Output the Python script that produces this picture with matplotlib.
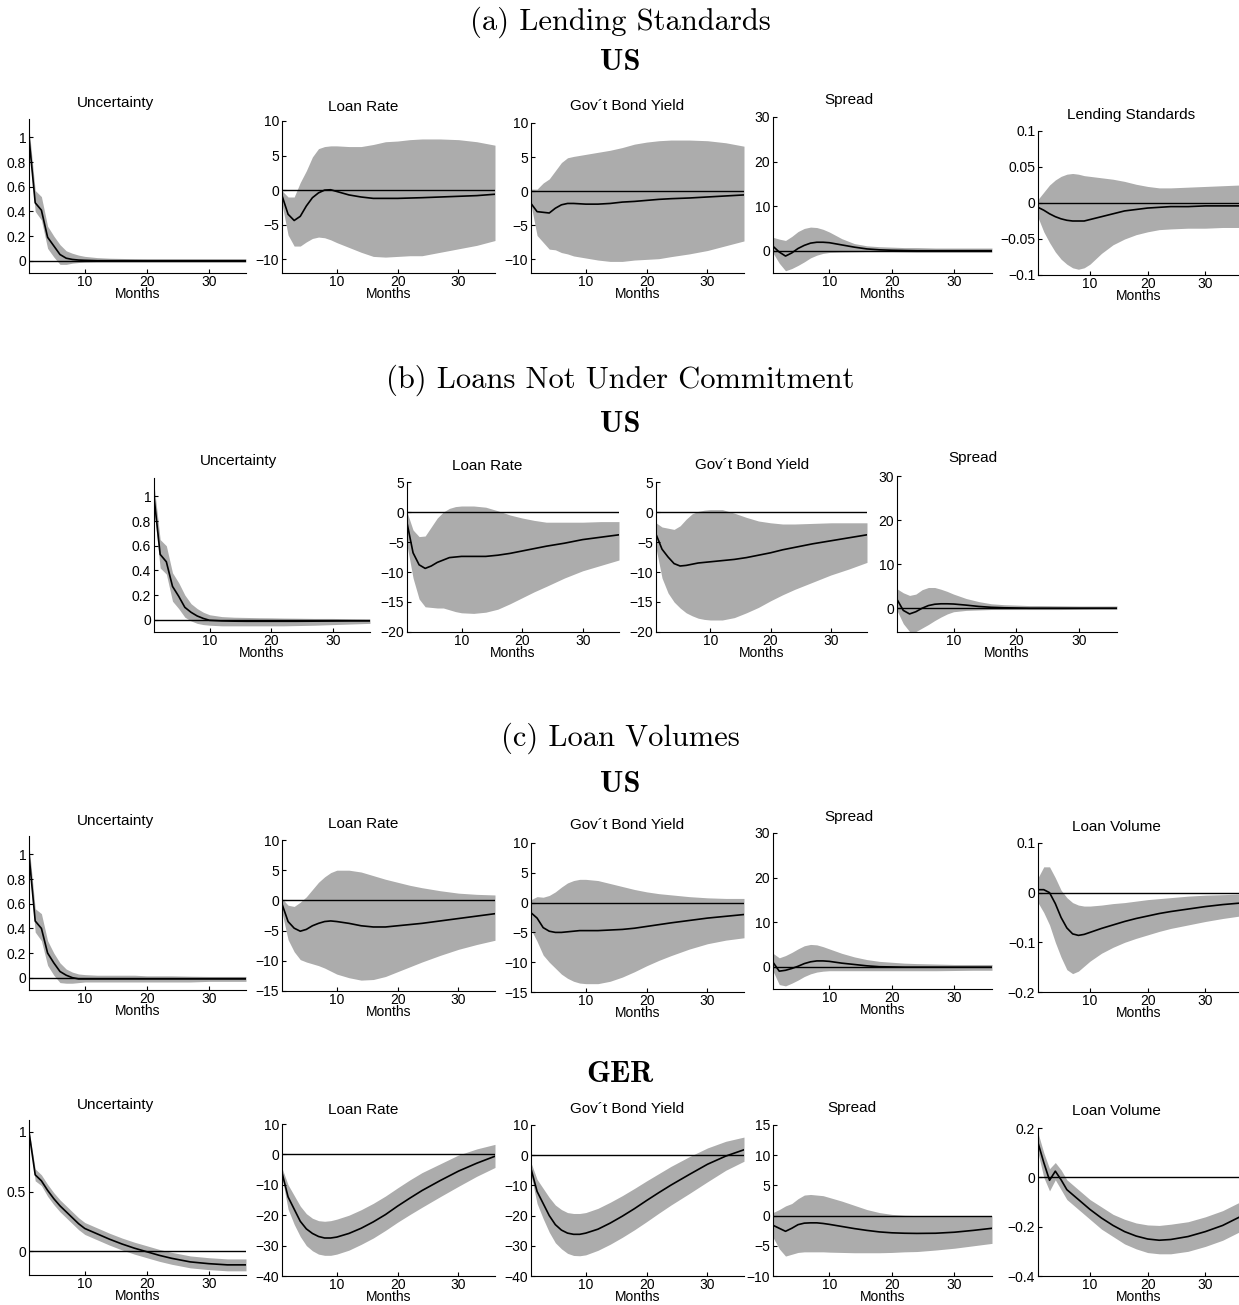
import matplotlib
matplotlib.use('Agg')
import matplotlib.pyplot as plt
from matplotlib.ticker import FuncFormatter

W, H = 1239, 1305

# ---------------- data ----------------
months = [1, 2, 3, 4, 5, 6, 7, 8, 9, 10, 12, 14, 16, 18, 20, 22, 24, 27, 30, 33, 36]

# (a) Lending Standards, US
a_unc_mid = [1.0, 0.47, 0.41, 0.19, 0.12, 0.05, 0.02, 0.01, 0.005, 0.003, 0.0, 0.0, 0.0, 0.0, 0.0, 0.0, 0.0, 0.0, 0.0, 0.0, 0.0]
a_unc_hi = [1.08, 0.57, 0.52, 0.28, 0.2, 0.13, 0.08, 0.06, 0.045, 0.035, 0.025, 0.02, 0.018, 0.016, 0.015, 0.015, 0.015, 0.015, 0.015, 0.015, 0.015]
a_unc_lo = [0.93, 0.40, 0.33, 0.10, 0.03, -0.03, -0.03, -0.02, -0.015, -0.012, -0.01, -0.01, -0.01, -0.01, -0.01, -0.01, -0.01, -0.01, -0.01, -0.01, -0.01]

a_lr_mid = [-0.8, -3.5, -4.4, -3.8, -2.3, -1.1, -0.4, 0.0, 0.05, -0.2, -0.7, -1.0, -1.2, -1.2, -1.2, -1.15, -1.1, -1.0, -0.9, -0.8, -0.6]
a_lr_hi = [-0.1, -1.0, -1.0, 1.1, 2.8, 4.8, 6.0, 6.3, 6.4, 6.4, 6.3, 6.3, 6.6, 7.0, 7.1, 7.3, 7.4, 7.4, 7.3, 7.0, 6.5]
a_lr_lo = [-2.0, -6.5, -8.1, -8.1, -7.5, -7.0, -6.8, -6.9, -7.2, -7.6, -8.3, -9.0, -9.6, -9.7, -9.6, -9.5, -9.5, -9.0, -8.5, -8.0, -7.3]

a_gb_mid = [-1.8, -3.0, -3.1, -3.2, -2.5, -2.0, -1.8, -1.8, -1.85, -1.9, -1.9, -1.8, -1.6, -1.5, -1.35, -1.2, -1.1, -1.0, -0.85, -0.7, -0.55]
a_gb_hi = [0.3, 0.3, 1.2, 1.8, 3.0, 4.2, 4.9, 5.1, 5.25, 5.4, 5.7, 6.0, 6.4, 6.9, 7.2, 7.4, 7.5, 7.5, 7.4, 7.1, 6.6]
a_gb_lo = [-2.0, -6.5, -7.5, -8.5, -8.6, -9.0, -9.2, -9.5, -9.65, -9.8, -10.1, -10.3, -10.3, -10.1, -10.0, -9.9, -9.6, -9.2, -8.7, -8.0, -7.3]

a_sp_mid = [1.0, -0.3, -1.2, -0.5, 0.5, 1.2, 1.7, 1.9, 1.9, 1.8, 1.3, 0.8, 0.4, 0.2, 0.1, 0.05, 0.0, 0.0, 0.0, 0.0, 0.0]
a_sp_hi = [3.0, 2.6, 2.3, 3.2, 4.3, 5.0, 5.3, 5.2, 4.8, 4.2, 2.7, 1.6, 1.1, 0.9, 0.8, 0.7, 0.7, 0.6, 0.6, 0.6, 0.6]
a_sp_lo = [-0.5, -2.8, -4.5, -4.0, -3.3, -2.5, -1.6, -1.0, -0.6, -0.4, -0.3, -0.25, -0.2, -0.2, -0.2, -0.25, -0.3, -0.3, -0.3, -0.3, -0.3]

a_ls_mid = [-0.006, -0.010, -0.015, -0.019, -0.022, -0.024, -0.025, -0.025, -0.025, -0.023, -0.019, -0.015, -0.011, -0.009, -0.007, -0.006, -0.005, -0.005, -0.004, -0.004, -0.004]
a_ls_hi = [0.005, 0.015, 0.025, 0.032, 0.037, 0.040, 0.041, 0.040, 0.038, 0.037, 0.035, 0.033, 0.030, 0.026, 0.023, 0.021, 0.021, 0.022, 0.023, 0.024, 0.025]
a_ls_lo = [-0.020, -0.040, -0.055, -0.068, -0.078, -0.085, -0.090, -0.092, -0.090, -0.085, -0.070, -0.058, -0.050, -0.044, -0.040, -0.037, -0.036, -0.035, -0.035, -0.034, -0.034]

# (b) Loans Not Under Commitment, US
b_unc_mid = [1.0, 0.53, 0.47, 0.27, 0.19, 0.10, 0.06, 0.03, 0.01, -0.005, -0.01, -0.012, -0.013, -0.013, -0.013, -0.013, -0.013, -0.012, -0.011, -0.01, -0.01]
b_unc_hi = [1.10, 0.65, 0.60, 0.38, 0.30, 0.20, 0.13, 0.09, 0.06, 0.04, 0.025, 0.02, 0.018, 0.016, 0.015, 0.013, 0.012, 0.01, 0.01, 0.007, 0.005]
b_unc_lo = [0.90, 0.42, 0.37, 0.15, 0.09, 0.02, -0.01, -0.03, -0.04, -0.045, -0.05, -0.05, -0.05, -0.05, -0.05, -0.05, -0.048, -0.045, -0.04, -0.035, -0.03]

b_lr_mid = [-1.8, -6.8, -8.8, -9.4, -9.0, -8.4, -8.0, -7.6, -7.5, -7.4, -7.4, -7.4, -7.2, -6.9, -6.5, -6.1, -5.7, -5.2, -4.6, -4.2, -3.8]
b_lr_hi = [0.0, -3.0, -4.1, -4.0, -2.5, -1.0, 0.0, 0.6, 0.9, 1.0, 1.0, 0.8, 0.2, -0.5, -1.0, -1.4, -1.7, -1.7, -1.7, -1.6, -1.6]
b_lr_lo = [-5.5, -11.0, -14.5, -15.8, -15.9, -16.0, -16.0, -16.3, -16.6, -16.8, -16.9, -16.7, -16.2, -15.3, -14.3, -13.3, -12.4, -11.0, -9.8, -8.9, -8.0]

b_gb_mid = [-3.7, -6.2, -7.5, -8.6, -9.0, -8.9, -8.7, -8.5, -8.4, -8.3, -8.1, -7.9, -7.6, -7.2, -6.8, -6.3, -5.9, -5.3, -4.8, -4.3, -3.8]
b_gb_hi = [-1.8, -2.5, -2.7, -2.9, -2.3, -1.2, -0.3, 0.1, 0.3, 0.4, 0.4, -0.2, -0.9, -1.5, -1.8, -2.0, -2.0, -1.9, -1.8, -1.8, -1.8]
b_gb_lo = [-6.0, -11.0, -13.5, -15.0, -16.0, -16.8, -17.3, -17.7, -17.9, -18.0, -18.0, -17.6, -16.8, -15.9, -14.8, -13.8, -12.9, -11.7, -10.5, -9.5, -8.4]

b_sp_mid = [2.0, -0.5, -1.3, -0.8, 0.0, 0.6, 0.9, 1.0, 1.0, 0.95, 0.7, 0.4, 0.2, 0.1, 0.05, 0.0, 0.0, 0.0, 0.0, 0.0, 0.0]
b_sp_hi = [4.4, 3.5, 2.9, 3.2, 4.2, 4.7, 4.7, 4.3, 3.8, 3.2, 2.2, 1.5, 1.0, 0.8, 0.7, 0.6, 0.6, 0.55, 0.5, 0.5, 0.5]
b_sp_lo = [-0.5, -3.5, -5.3, -5.3, -4.5, -3.7, -2.8, -2.0, -1.3, -0.8, -0.5, -0.4, -0.3, -0.3, -0.3, -0.3, -0.3, -0.3, -0.25, -0.2, -0.2]

# (c) Loan Volumes, US
c_unc_mid = [1.0, 0.46, 0.40, 0.20, 0.12, 0.05, 0.02, 0.0, -0.01, -0.01, -0.01, -0.01, -0.01, -0.01, -0.01, -0.01, -0.01, -0.01, -0.01, -0.01, -0.01]
c_unc_hi = [1.08, 0.56, 0.52, 0.30, 0.20, 0.12, 0.07, 0.045, 0.03, 0.025, 0.02, 0.02, 0.02, 0.02, 0.015, 0.015, 0.015, 0.012, 0.01, 0.01, 0.01]
c_unc_lo = [0.93, 0.37, 0.30, 0.10, 0.02, -0.04, -0.045, -0.045, -0.04, -0.035, -0.035, -0.035, -0.035, -0.035, -0.035, -0.035, -0.035, -0.035, -0.03, -0.03, -0.03]

c_lr_mid = [-0.6, -3.5, -4.6, -5.1, -4.8, -4.2, -3.8, -3.5, -3.4, -3.5, -3.8, -4.2, -4.4, -4.4, -4.2, -4.0, -3.8, -3.4, -3.0, -2.6, -2.2]
c_lr_hi = [0.3, -0.8, -1.0, -0.3, 0.6, 1.8, 3.0, 3.9, 4.6, 5.0, 5.0, 4.7, 4.1, 3.5, 3.0, 2.5, 2.1, 1.6, 1.2, 1.0, 0.9]
c_lr_lo = [-2.0, -6.5, -8.5, -9.8, -10.2, -10.5, -10.8, -11.2, -11.7, -12.2, -12.8, -13.2, -13.1, -12.6, -11.8, -11.0, -10.2, -9.1, -8.1, -7.3, -6.6]

c_gb_mid = [-1.7, -2.6, -4.2, -4.8, -5.0, -5.0, -4.9, -4.8, -4.7, -4.7, -4.7, -4.6, -4.5, -4.3, -4.0, -3.7, -3.4, -3.0, -2.6, -2.3, -2.0]
c_gb_hi = [0.5, 1.0, 0.9, 1.2, 1.8, 2.6, 3.3, 3.7, 3.9, 3.9, 3.7, 3.2, 2.7, 2.2, 1.8, 1.5, 1.3, 1.0, 0.8, 0.7, 0.7]
c_gb_lo = [-4.5, -6.5, -8.8, -10.0, -11.0, -12.0, -12.7, -13.2, -13.5, -13.6, -13.6, -13.2, -12.5, -11.6, -10.6, -9.7, -8.9, -7.8, -6.9, -6.3, -5.9]

c_sp_mid = [1.0, -1.0, -0.8, -0.4, 0.1, 0.7, 1.1, 1.3, 1.3, 1.2, 0.8, 0.5, 0.2, 0.0, -0.05, -0.1, -0.1, -0.1, -0.1, -0.1, -0.1]
c_sp_hi = [3.0, 2.0, 2.5, 3.2, 4.0, 4.7, 5.0, 4.9, 4.5, 4.0, 3.0, 2.2, 1.6, 1.2, 1.0, 0.8, 0.7, 0.6, 0.5, 0.5, 0.5]
c_sp_lo = [-1.0, -4.0, -4.3, -3.7, -3.0, -2.2, -1.6, -1.2, -1.0, -0.9, -0.9, -0.9, -0.9, -0.9, -0.9, -0.9, -0.9, -0.9, -0.85, -0.8, -0.8]

c_lv_mid = [0.006, 0.006, 0.0, -0.022, -0.05, -0.071, -0.083, -0.086, -0.084, -0.080, -0.072, -0.065, -0.058, -0.052, -0.047, -0.042, -0.038, -0.033, -0.028, -0.024, -0.021]
c_lv_hi = [0.03, 0.052, 0.052, 0.03, 0.005, -0.01, -0.02, -0.025, -0.027, -0.027, -0.025, -0.022, -0.02, -0.017, -0.014, -0.012, -0.010, -0.007, -0.005, -0.004, -0.003]
c_lv_lo = [-0.02, -0.04, -0.065, -0.10, -0.13, -0.155, -0.163, -0.158, -0.148, -0.138, -0.122, -0.110, -0.100, -0.092, -0.085, -0.078, -0.072, -0.065, -0.058, -0.052, -0.047]

# (c) Loan Volumes, GER
d_unc_mid = [1.0, 0.64, 0.59, 0.51, 0.44, 0.38, 0.33, 0.28, 0.23, 0.19, 0.145, 0.10, 0.06, 0.025, -0.005, -0.035, -0.06, -0.09, -0.105, -0.115, -0.115]
d_unc_hi = [1.02, 0.69, 0.64, 0.56, 0.49, 0.43, 0.38, 0.33, 0.28, 0.24, 0.195, 0.15, 0.11, 0.075, 0.045, 0.015, -0.01, -0.04, -0.055, -0.065, -0.065]
d_unc_lo = [0.98, 0.59, 0.55, 0.46, 0.39, 0.33, 0.28, 0.23, 0.18, 0.14, 0.095, 0.05, 0.01, -0.025, -0.055, -0.085, -0.11, -0.14, -0.155, -0.165, -0.165]

d_lr_mid = [-6.0, -14.0, -18.0, -22.0, -24.5, -26.0, -27.0, -27.5, -27.5, -27.2, -26.0, -24.3, -22.2, -19.8, -17.0, -14.4, -11.9, -8.6, -5.5, -2.9, -0.6]
d_lr_hi = [-4.5, -10.0, -13.5, -17.0, -19.5, -21.0, -21.8, -22.0, -21.8, -21.3, -20.0, -18.2, -16.1, -13.7, -11.0, -8.4, -6.0, -3.1, -0.2, 1.8, 3.3]
d_lr_lo = [-7.5, -18.0, -23.0, -27.0, -30.0, -31.7, -32.8, -33.2, -33.2, -32.8, -31.5, -29.6, -27.5, -25.0, -22.3, -19.8, -17.4, -13.9, -10.5, -7.2, -4.3]

d_gb_mid = [-4.5, -12.0, -16.0, -20.0, -23.0, -24.8, -25.8, -26.2, -26.2, -25.8, -24.5, -22.5, -20.2, -17.7, -15.0, -12.4, -9.9, -6.4, -3.0, -0.3, 1.8]
d_gb_hi = [-2.5, -8.0, -11.0, -14.0, -16.5, -18.0, -19.0, -19.3, -19.3, -19.0, -17.6, -15.6, -13.4, -11.0, -8.5, -6.1, -3.7, -0.5, 2.4, 4.6, 6.0]
d_gb_lo = [-6.5, -16.0, -21.0, -25.5, -29.0, -31.0, -32.5, -33.2, -33.3, -33.0, -31.5, -29.5, -27.2, -24.7, -22.0, -19.2, -16.5, -12.7, -8.8, -5.0, -2.0]

d_sp_mid = [-1.6, -2.1, -2.6, -2.1, -1.5, -1.25, -1.2, -1.2, -1.3, -1.45, -1.8, -2.15, -2.45, -2.7, -2.85, -2.92, -2.95, -2.92, -2.75, -2.45, -2.1]
d_sp_hi = [0.5, 1.0, 1.6, 2.0, 2.8, 3.4, 3.5, 3.4, 3.3, 3.0, 2.4, 1.7, 1.0, 0.5, 0.2, 0.05, 0.0, 0.0, 0.0, 0.0, 0.0]
d_sp_lo = [-3.6, -5.5, -6.7, -6.4, -6.1, -6.0, -6.0, -6.0, -6.0, -6.05, -6.1, -6.15, -6.15, -6.15, -6.1, -6.0, -5.95, -5.7, -5.4, -5.0, -4.6]

d_lv_mid = [0.14, 0.06, -0.012, 0.025, -0.01, -0.05, -0.07, -0.09, -0.11, -0.13, -0.165, -0.195, -0.22, -0.238, -0.25, -0.255, -0.252, -0.24, -0.22, -0.195, -0.16]
d_lv_hi = [0.18, 0.10, 0.035, 0.06, 0.03, -0.01, -0.03, -0.05, -0.07, -0.09, -0.12, -0.15, -0.17, -0.185, -0.193, -0.195, -0.19, -0.18, -0.16, -0.135, -0.10]
d_lv_lo = [0.10, 0.0, -0.055, -0.01, -0.05, -0.09, -0.11, -0.13, -0.15, -0.17, -0.21, -0.24, -0.27, -0.29, -0.305, -0.31, -0.31, -0.30, -0.28, -0.255, -0.22]

xticks = [10, 20, 30]
unc_ticks = [0, 0.2, 0.4, 0.6, 0.8, 1]

# ---------------- layout / style ----------------
BAND = '#acacac'
SANS = 'Liberation Sans'

panels = [
    # title, mid, lo, hi, ylim, yticks, (x0, x1, ytop, ybot), (title_x, title_y)
    ('Uncertainty', a_unc_mid, a_unc_lo, a_unc_hi, (-0.1, 1.15), unc_ticks, (29, 246, 119, 273), (116, 103)),
    ('Loan Rate', a_lr_mid, a_lr_lo, a_lr_hi, (-12, 10), [-10, -5, 0, 5, 10], (282, 495, 121, 273), (363, 107)),
    ('Gov\u00b4t Bond Yield', a_gb_mid, a_gb_lo, a_gb_hi, (-12, 10), [-10, -5, 0, 5, 10], (531, 744, 123, 273), (627, 106)),
    ('Spread', a_sp_mid, a_sp_lo, a_sp_hi, (-5, 30), [0, 10, 20, 30], (773, 992, 117, 273), (849, 100)),
    ('Lending Standards', a_ls_mid, a_ls_lo, a_ls_hi, (-0.1, 0.1), [-0.1, -0.05, 0, 0.05, 0.1], (1038, 1240, 131, 275), (1131, 115)),

    ('Uncertainty', b_unc_mid, b_unc_lo, b_unc_hi, (-0.1, 1.15), unc_ticks, (154, 370, 478, 632), (239, 461)),
    ('Loan Rate', b_lr_mid, b_lr_lo, b_lr_hi, (-20, 5), [-20, -15, -10, -5, 0, 5], (407, 619, 482, 632), (487, 466)),
    ('Gov\u00b4t Bond Yield', b_gb_mid, b_gb_lo, b_gb_hi, (-20, 5), [-20, -15, -10, -5, 0, 5], (656, 867, 482, 632), (752, 465)),
    ('Spread', b_sp_mid, b_sp_lo, b_sp_hi, (-5.4, 30), [0, 10, 20, 30], (897, 1117, 476, 632), (973, 458)),

    ('Uncertainty', c_unc_mid, c_unc_lo, c_unc_hi, (-0.1, 1.15), unc_ticks, (29, 246, 836, 990), (116, 821)),
    ('Loan Rate', c_lr_mid, c_lr_lo, c_lr_hi, (-15, 10), [-15, -10, -5, 0, 5, 10], (282, 495, 840, 991), (363, 824)),
    ('Gov\u00b4t Bond Yield', c_gb_mid, c_gb_lo, c_gb_hi, (-15, 10), [-15, -10, -5, 0, 5, 10], (531, 744, 843, 992), (627, 825)),
    ('Spread', c_sp_mid, c_sp_lo, c_sp_hi, (-5, 30), [0, 10, 20, 30], (773, 992, 833, 989), (849, 817)),
    ('Loan Volume', c_lv_mid, c_lv_lo, c_lv_hi, (-0.2, 0.1), [-0.2, -0.1, 0, 0.1], (1038, 1240, 843, 992), (1116, 827)),

    ('Uncertainty', d_unc_mid, d_unc_lo, d_unc_hi, (-0.2, 1.1), [0, 0.5, 1], (29, 246, 1120, 1275), (116, 1105)),
    ('Loan Rate', d_lr_mid, d_lr_lo, d_lr_hi, (-40, 10), [-40, -30, -20, -10, 0, 10], (282, 495, 1124, 1276), (363, 1110)),
    ('Gov\u00b4t Bond Yield', d_gb_mid, d_gb_lo, d_gb_hi, (-40, 10), [-40, -30, -20, -10, 0, 10], (531, 744, 1125, 1276), (627, 1109)),
    ('Spread', d_sp_mid, d_sp_lo, d_sp_hi, (-10, 15), [-10, -5, 0, 5, 10, 15], (773, 992, 1125, 1276), (852, 1108)),
    ('Loan Volume', d_lv_mid, d_lv_lo, d_lv_hi, (-0.4, 0.2), [-0.4, -0.2, 0, 0.2], (1038, 1240, 1128, 1276), (1116, 1111)),
]

headers = [
    ('(a) Lending Standards', 'cmr10', 620, 22),
    ('US', 'cmb10', 620, 62),
    ('(b) Loans Not Under Commitment', 'cmr10', 620, 380),
    ('US', 'cmb10', 620, 425),
    ('(c) Loan Volumes', 'cmr10', 620, 738),
    ('US', 'cmb10', 620, 785),
    ('GER', 'cmb10', 620, 1075),
]


def fmt(v, pos):
    v = round(v, 6) + 0.0
    s = '%g' % v
    return s.replace('-', '\u2212')


fig = plt.figure(figsize=(W / 100, H / 100), dpi=100)
fig.patch.set_facecolor('white')

for title, mid, lo, hi, ylim, yt, box, tpos in panels:
    x0, x1, yt_px, yb_px = box
    ax = fig.add_axes([x0 / W, 1 - yb_px / H, (x1 - x0) / W, (yb_px - yt_px) / H])
    ax.fill_between(months, lo, hi, color=BAND, lw=0, zorder=1)
    ax.axhline(0, color='black', lw=1.0, zorder=2)
    ax.plot(months, mid, color='black', lw=1.2, zorder=3)
    ax.set_xlim(1, 36)
    ax.set_ylim(*ylim)
    ax.set_xticks(xticks)
    ax.set_yticks(yt)
    ax.yaxis.set_major_formatter(FuncFormatter(fmt))
    ax.xaxis.set_major_formatter(FuncFormatter(fmt))
    for s in ('top', 'right'):
        ax.spines[s].set_visible(False)
    for s in ('left', 'bottom'):
        ax.spines[s].set_linewidth(0.8)
    ax.tick_params(direction='in', length=3, width=0.8, labelsize=10, pad=2)
    ax.tick_params(axis='x', pad=1.5)
    for lab in ax.get_xticklabels() + ax.get_yticklabels():
        lab.set_fontfamily(SANS)
    ax.set_xlabel('Months', fontsize=10, fontfamily=SANS, labelpad=-1.5)
    ax.set_facecolor('none')
    fig.text(tpos[0] / W, 1 - tpos[1] / H, title, ha='center', va='center',
             fontsize=11, fontfamily=SANS)

for text, fam, x, y in headers:
    fig.text(x / W, 1 - y / H, text, ha='center', va='center', fontsize=22, fontfamily=fam)

fig.savefig('out.png', dpi=100)
